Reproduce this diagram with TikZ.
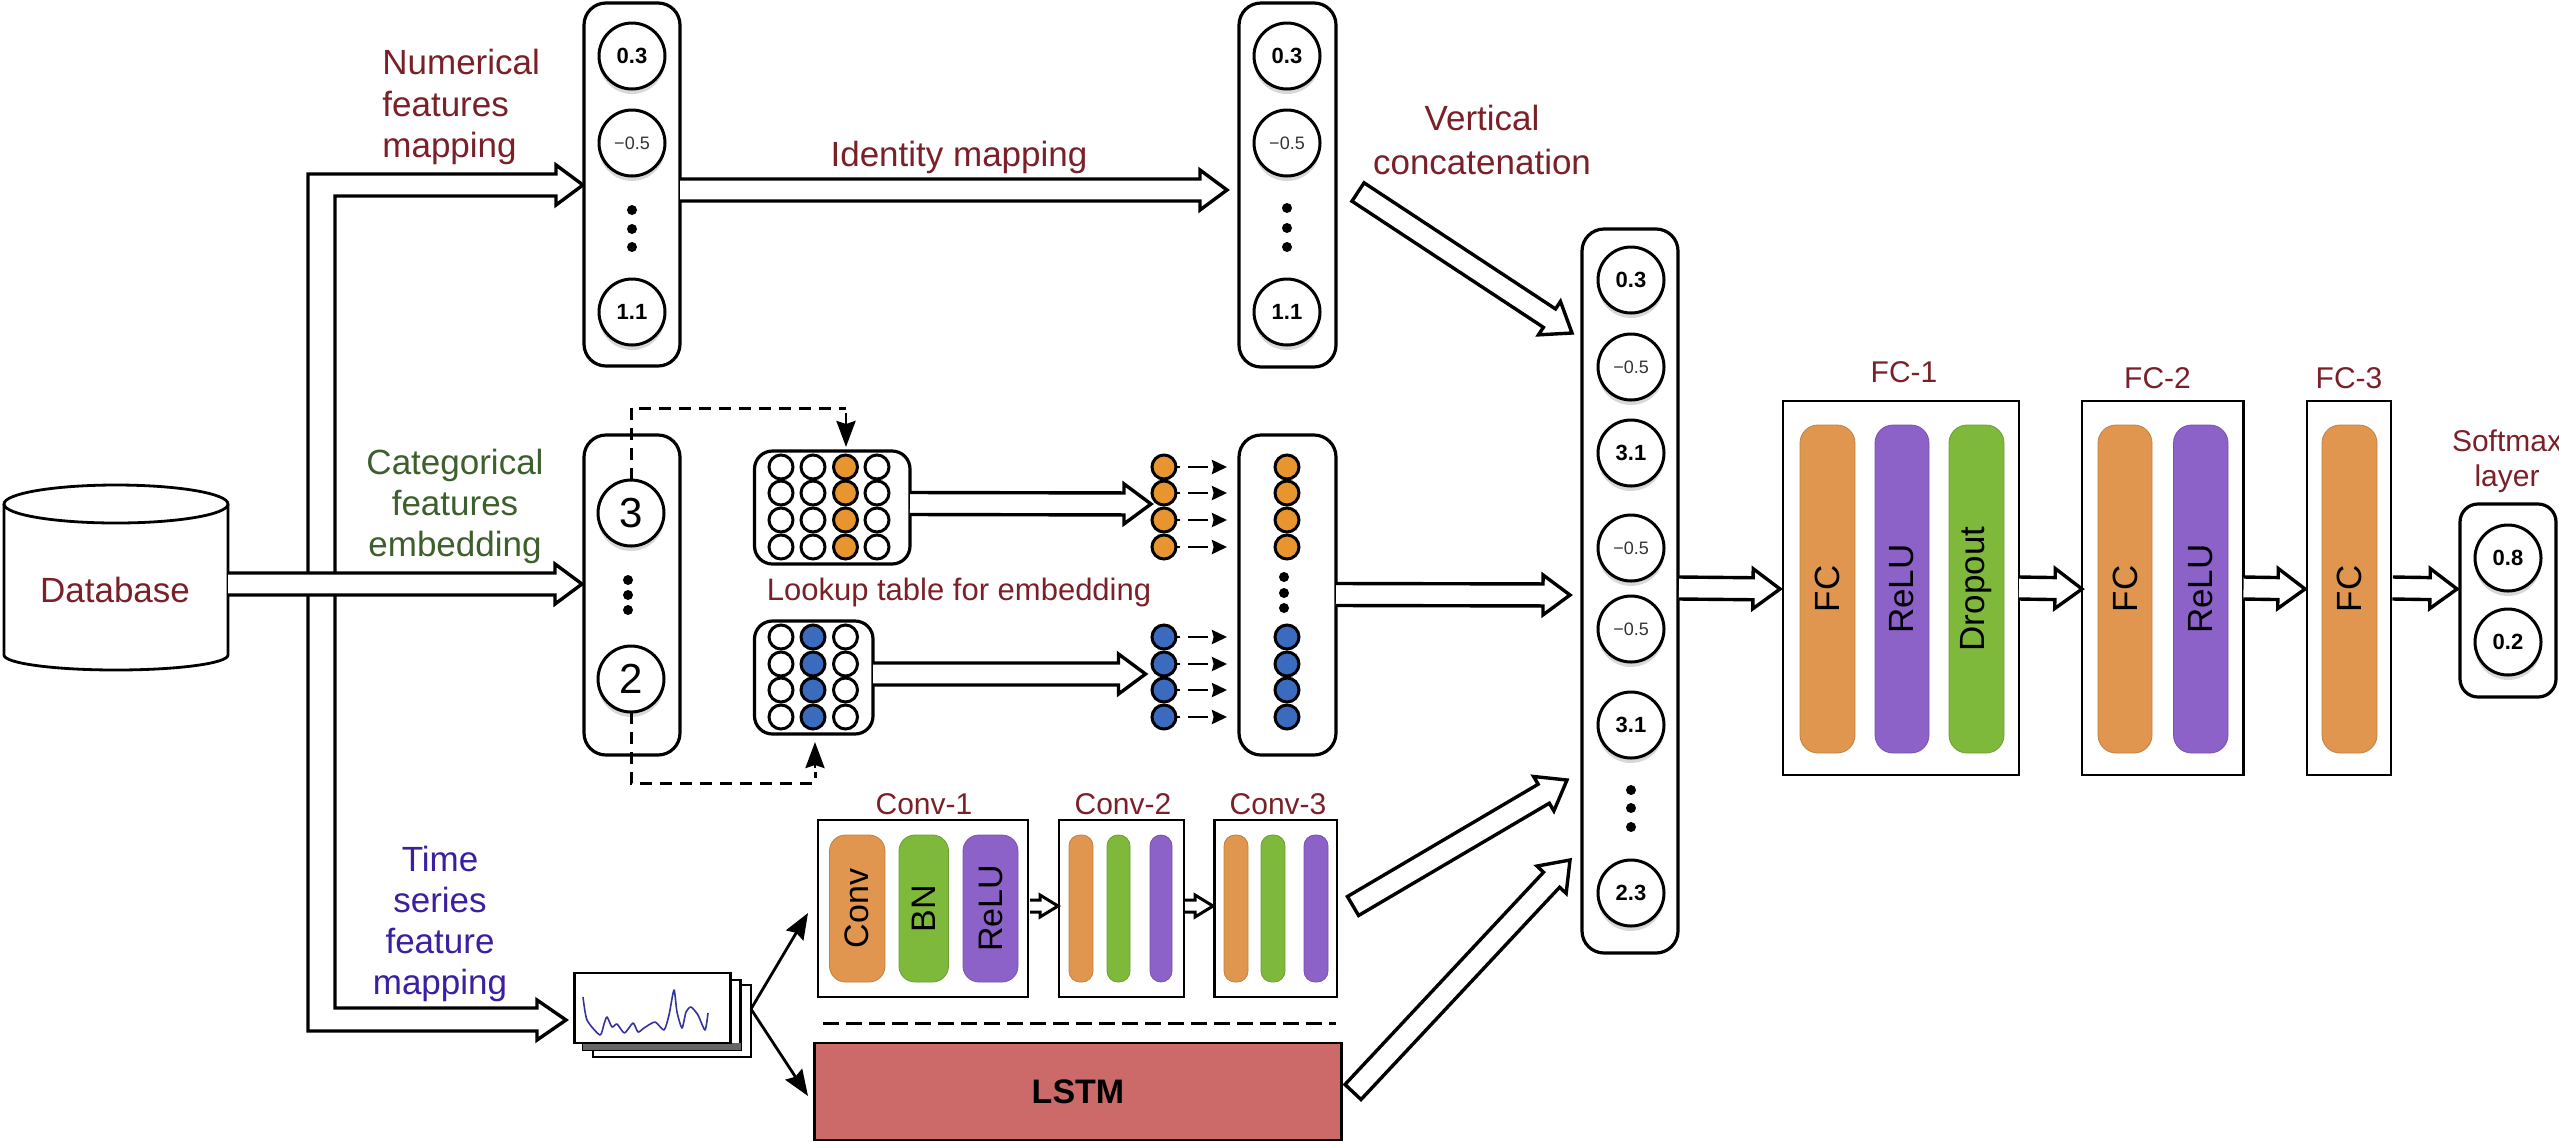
\documentclass[tikz,border=0pt]{standalone}
\usepackage{fontspec}
\setmainfont{Liberation Sans}
\usetikzlibrary{calc,arrows.meta,shadows}
\definecolor{txred}{HTML}{7B2028}
\definecolor{txgreen}{HTML}{3D5F2C}
\definecolor{txblue}{HTML}{3A1FA0}
\definecolor{porange}{HTML}{E0964F}
\definecolor{ppurple}{HTML}{8C62C8}
\definecolor{pgreen}{HTML}{7FB93C}
\definecolor{plstm}{HTML}{CC6A6A}
\definecolor{dorange}{HTML}{E8952F}
\definecolor{dblue}{HTML}{3A6BBF}
\newcommand\fs[1]{\fontsize{#1}{#1}\selectfont}
\newcommand\fl[2]{\fontsize{#1}{#2}\selectfont}
\newcommand\rot[1]{\rotatebox[origin=c]{90}{#1}}
\tikzset{
  lw/.style={line width=1.6pt},
  rbox/.style={draw=black,lw,fill=white,rounded corners=#1,inner sep=0pt,outer sep=0pt},
  rbox/.default=11pt,
  sbox/.style={draw=black,line width=1.3pt,fill=white,inner sep=0pt,outer sep=0pt},
  pill/.style={draw=#1!85!black,line width=.4pt,fill=#1,rounded corners=9pt,inner sep=0pt,outer sep=0pt},
  thinpill/.style={draw=#1!85!black,line width=.4pt,fill=#1,rounded corners=5.5pt,inner sep=0pt,outer sep=0pt},
  midpill/.style={draw=#1!85!black,line width=.4pt,fill=#1,rounded corners=8pt,inner sep=0pt,outer sep=0pt},
  circ/.style={circle,draw=black,line width=1.5pt,fill=white,minimum size=33pt,inner sep=0pt,outer sep=0pt,
     drop shadow={shadow xshift=0pt,shadow yshift=-2.5pt,opacity=.3,fill=gray}},
  posnum/.style={circ,font=\bfseries\fs{11}},
  negnum/.style={circ,font=\fs{9},text=black!80},
  catnum/.style={circ,font=\fs{21}},
  cell/.style={circle,draw=black,line width=1.5pt,fill=#1,minimum size=12pt,inner sep=0pt,outer sep=0pt},
  cell/.default=white,
  pdot/.style={circle,fill=black,minimum size=5pt,inner sep=0pt,outer sep=0pt},
  lab/.style={text=txred,font=\fs{17.5},inner sep=0pt,anchor=base},
  hollow/.style={draw=black,line width=1.7pt,fill=white,line join=miter},
  dash1/.style={line width=1.5pt,dash pattern=on 6pt off 4pt},
  tipline/.style={line width=1.4pt,-{Stealth[length=13pt,width=9.5pt,inset=1.5pt]}},
  smalldash/.style={line width=1.4pt,dash pattern=on 2pt off 4pt on 8pt off 0pt,-{Stealth[length=7.5pt,width=7pt,inset=.8pt]}},
}
% pill/box: style,name,x1,y1,x2,y2,text
\newcommand\bx[7]{%
  \pgfmathsetmacro\cxx{(#3+#5)/2}\pgfmathsetmacro\cyy{(#4+#6)/2}%
  \pgfmathsetmacro\ww{(#5-#3)*0.5}\pgfmathsetmacro\hh{(#6-#4)*0.5}%
  \node[#1,minimum width=\ww pt,minimum height=\hh pt] (#2) at (\cxx,\cyy) {#7};}
% hollow arrow, open tail
\newcommand\harrow[2]{%
  \coordinate (H) at ($(#2)!13.5pt!(#1)$);
  \draw[hollow] ($(#1)!5.5pt!90:(#2)$) -- ($(H)!5.5pt!-90:(#1)$) -- ($(H)!10pt!-90:(#1)$) -- (#2)
     -- ($(H)!10pt!90:(#1)$) -- ($(H)!5.5pt!90:(#1)$) -- ($(#1)!5.5pt!-90:(#2)$);}
\newcommand\harrowc[2]{%
  \coordinate (H) at ($(#2)!13.5pt!(#1)$);
  \draw[hollow] ($(#1)!5.5pt!90:(#2)$) -- ($(H)!5.5pt!-90:(#1)$) -- ($(H)!10pt!-90:(#1)$) -- (#2)
     -- ($(H)!10pt!90:(#1)$) -- ($(H)!5.5pt!90:(#1)$) -- ($(#1)!5.5pt!-90:(#2)$) -- cycle;}
\begin{document}
\begin{tikzpicture}[x=.5pt,y=-.5pt]
\useasboundingbox (0,0) rectangle (2559,1142);
% ---- bus
\coordinate (busA) at (583,185);
\coordinate (busB) at (566,1020);
\draw[hollow] (556,165) -- (busA) -- (556,205) -- (556,196) -- (335,196) -- (335,1008) -- (537,1008)
  -- (537,1000) -- (busB) -- (537,1040) -- (537,1031) -- (308,1031) -- (308,174) -- (556,174) -- cycle;
% ---- database
\draw[line width=1.4pt,fill=white] (4,504) -- (4,655) arc[start angle=180,end angle=360,x radius=56pt,y radius=7.5pt] -- (228,504);
\draw[line width=1.4pt,fill=white] (116,504) ellipse[x radius=56pt,y radius=9.5pt];
\node[lab,anchor=center] (db) at (115,590) {Database};
\coordinate (dbE) at (228,584);
\coordinate (c2tip) at (582,584);
\harrow{dbE}{c2tip}
% ---- column 1
\bx{rbox}{b1}{584}{3}{680}{366}{}
\node[posnum] (n1) at (632,56) {0.3};
\node[negnum] (n2) at (632,143) {−0.5};
\node[pdot] (n3) at (632,210) {};
\node[pdot] (n4) at (632,229) {};
\node[pdot] (n5) at (632,247) {};
\node[posnum] (n6) at (632,312) {1.1};
\bx{rbox}{b2}{1239}{3}{1336}{367}{}
\node[posnum] (m1) at (1287,56) {0.3};
\node[negnum] (m2) at (1287,143) {−0.5};
\node[pdot] (m3) at (1287,208) {};
\node[pdot] (m4) at (1287,228) {};
\node[pdot] (m5) at (1287,247) {};
\node[posnum] (m6) at (1287,312) {1.1};
\coordinate (idS) at (680,190);
\coordinate (idT) at (1227,190);
\harrow{idS}{idT}
\node[lab] (idl) at (959,166) {Identity mapping};
\node[text=txred,font=\fl{17.5}{20.8},align=left,anchor=west,inner sep=0pt] (numl) at (382,107) {Numerical\\features\\mapping};
\node[text=txred,font=\fl{17.5}{22},align=center,inner sep=0pt] (vcl) at (1482,140) {Vertical\\concatenation};
% ---- column 2
\bx{rbox}{b3}{584}{435}{680}{755}{}
\node[catnum] (c3) at (631,513) {3};
\node[pdot] (c4) at (628,580) {};
\node[pdot] (c5) at (628,595) {};
\node[pdot] (c6) at (628,610) {};
\node[catnum] (c7) at (631,679) {2};
\node[text=txgreen,font=\fl{17.5}{20.5},align=center,inner sep=0pt] (catl) at (455,506) {Categorical\\features\\embedding};
% lookup tables
\bx{rbox=9pt}{t1}{754.5}{451}{910}{564}{}
\foreach \y/\yy in {467/a,493/b,520/c,547/d}{
  \node[cell] (t1a\yy) at (781,\y) {};
  \node[cell] (t1b\yy) at (813,\y) {};
  \node[cell=dorange] (t1c\yy) at (845.5,\y) {};
  \node[cell] (t1d\yy) at (877,\y) {};
  \node[cell=dorange] (ea\yy) at (1164,\y) {};
}
\bx{rbox=9pt}{t2}{754.5}{621}{873}{734}{}
\foreach \y/\yy in {637/a,664/b,690/c,717/d}{
  \node[cell] (t2a\yy) at (781,\y) {};
  \node[cell=dblue] (t2b\yy) at (813,\y) {};
  \node[cell] (t2c\yy) at (845.5,\y) {};
  \node[cell=dblue] (eb\yy) at (1164,\y) {};
}
\node[lab,font=\fs{15.5}] (lkl) at (959,600) {Lookup table for embedding};
\coordinate (a1s) at (910,503.5); \coordinate (a1t) at (1151,504);
\harrow{a1s}{a1t}
\coordinate (a2s) at (873,674); \coordinate (a2t) at (1145.5,674);
\harrow{a2s}{a2t}
% embedding column
\bx{rbox}{b4}{1239}{435}{1336}{755}{}
\foreach \y/\yy in {467/a,493/b,520/c,547/d}{
  \node[cell=dorange] (fa\yy) at (1287,\y) {};
  \coordinate (ga\yy) at (1227,\y);
  \draw[smalldash] (ea\yy.east) -- (ga\yy);
}
\foreach \y/\yy in {637/a,664/b,690/c,717/d}{
  \node[cell=dblue] (fb\yy) at (1287,\y) {};
  \coordinate (gb\yy) at (1227,\y);
  \draw[smalldash] (eb\yy.east) -- (gb\yy);
}
\node[pdot] (f1) at (1284,577) {};
\node[pdot] (f2) at (1284,593) {};
\node[pdot] (f3) at (1284,608) {};
% dashed connectors
\coordinate (dt) at (846,408);
\coordinate (dt2) at (846,413);
\coordinate (dt3) at (846,447);
\draw[dash1] (c3.north) |- (dt);
\draw[tipline] (dt2) -- (dt3);
\coordinate (dd) at (815,783);
\coordinate (dd2) at (815,768);
\coordinate (dd3) at (815,742);
\draw[dash1] (c7.south) |- (dd) -- (815,772);
\draw[tipline] (dd2) -- (dd3);
% ---- concat column
\bx{rbox}{b5}{1582}{229}{1678}{953}{}
\node[posnum] (k1) at (1631,280) {0.3};
\node[negnum] (k2) at (1631,367) {−0.5};
\node[posnum] (k3) at (1631,453) {3.1};
\node[negnum] (k4) at (1631,548) {−0.5};
\node[negnum] (k5) at (1631,629) {−0.5};
\node[posnum] (k6) at (1631,725) {3.1};
\node[pdot] (k7) at (1631,790) {};
\node[pdot] (k8) at (1631,808) {};
\node[pdot] (k9) at (1631,827) {};
\node[posnum] (k10) at (1631,893) {2.3};
\coordinate (dg1s) at (1358,192); \coordinate (dg1t) at (1572,333);
\harrowc{dg1s}{dg1t}
\coordinate (cat1) at (1336,594.5); \coordinate (cat2) at (1570,595);
\harrow{cat1}{cat2}
\coordinate (dg2s) at (1353,906); \coordinate (dg2t) at (1567,780);
\harrowc{dg2s}{dg2t}
\coordinate (dg3s) at (1353,1092); \coordinate (dg3t) at (1570,860);
\harrowc{dg3s}{dg3t}
% ---- time series
\node[text=txblue,font=\fl{17.5}{20.5},align=center,inner sep=0pt] (tsl) at (440,924) {Time\\series\\feature\\mapping};
\draw[line width=1.2pt,fill=white] (593,985) rectangle (751,1057);
\draw[line width=1.2pt,fill=white] (583,980) rectangle (740.5,1050);
\fill[black!60] (583,1043) rectangle (740.5,1050);
\bx{sbox}{st}{574.5}{973}{730.5}{1043}{}
\draw[line width=.8pt,draw=black!30!blue!60!gray,line join=round]
 plot[smooth,tension=.4] coordinates {(583,997) (587,1020) (600,1035) (604,1024) (607,1017) (612,1027) (617,1024) (624.5,1033) (633,1023) (638,1032) (644,1028) (655,1022) (664,1030) (669,1015) (674,990) (677,1012) (682,1028) (686,1012) (691,1007) (698,1015) (705,1030) (708,1013)};
\coordinate (stO) at (751,1009);
\coordinate (up) at (808,913);
\coordinate (dn) at (808,1096);
\draw[line width=1.4pt,-{Stealth[length=13pt,width=10pt,inset=1.5pt]}] (stO) -- (up);
\draw[line width=1.4pt,-{Stealth[length=13pt,width=10pt,inset=1.5pt]}] (stO) -- (dn);
% ---- conv blocks
\bx{sbox}{cv1}{818}{820}{1028}{997}{}
\bx{midpill=porange}{p1}{829.5}{835}{885}{982}{\fs{17}\rot{Conv}}
\bx{midpill=pgreen}{p2}{899}{835}{948.5}{982}{\fs{17}\rot{BN}}
\bx{midpill=ppurple}{p3}{963}{835}{1018}{982}{\fs{17}\rot{ReLU}}
\bx{sbox}{cv2}{1059}{820}{1184}{997}{}
\bx{thinpill=porange}{p4}{1069}{835}{1093}{982}{}
\bx{thinpill=pgreen}{p5}{1107}{835}{1130}{982}{}
\bx{thinpill=ppurple}{p6}{1150}{835}{1172}{982}{}
\bx{sbox}{cv3}{1214.5}{820}{1337}{997}{}
\bx{thinpill=porange}{p7}{1224}{835}{1248}{982}{}
\bx{thinpill=pgreen}{p8}{1261}{835}{1285}{982}{}
\bx{thinpill=ppurple}{p9}{1304}{835}{1328}{982}{}
\node[lab,font=\fs{15}] (cl1) at (924,814) {Conv-1};
\node[lab,font=\fs{15}] (cl2) at (1123,814) {Conv-2};
\node[lab,font=\fs{15}] (cl3) at (1278,814) {Conv-3};
\draw[hollow,line width=1.5pt] (1030,900) -- (1040,900) -- (1040,895) -- (1058,906) -- (1040,917) -- (1040,912) -- (1030,912);
\draw[hollow,line width=1.5pt] (1185,900) -- (1195,900) -- (1195,895) -- (1213,906) -- (1195,917) -- (1195,912) -- (1185,912);
\coordinate (sep1) at (823,1023); \coordinate (sep2) at (1336,1023);
\draw[line width=1.5pt,dash pattern=on 8pt off 3.5pt] (sep1) -- (sep2);
\bx{draw=black,line width=1.4pt,fill=plstm,inner sep=0pt,outer sep=0pt,font=\bfseries\fs{17}}{ls}{814.5}{1043}{1341.5}{1140}{LSTM}
% ---- FC
\bx{sbox}{f1b}{1783}{401}{2019}{775}{}
\bx{pill=porange}{q1}{1800}{425}{1855}{753}{\fs{17.5}\rot{FC}}
\bx{pill=ppurple}{q2}{1875}{425}{1929}{753}{\fs{17.5}\rot{ReLU}}
\bx{pill=pgreen}{q3}{1949}{425}{2004}{753}{\fs{17.5}\rot{Dropout}}
\bx{sbox}{f2b}{2082}{401}{2243.5}{775}{}
\bx{pill=porange}{q4}{2098}{425}{2152}{753}{\fs{17.5}\rot{FC}}
\bx{pill=ppurple}{q5}{2173.5}{425}{2228}{753}{\fs{17.5}\rot{ReLU}}
\bx{sbox}{f3b}{2307}{401}{2391}{775}{}
\bx{pill=porange}{q6}{2322}{425}{2377}{753}{\fs{17.5}\rot{FC}}
\node[lab,font=\fs{15}] (fl1) at (1904,382) {FC-1};
\node[lab,font=\fs{15}] (fl2) at (2157.5,388) {FC-2};
\node[lab,font=\fs{15}] (fl3) at (2349,388) {FC-3};
\coordinate (z0) at (1679,588); \coordinate (z1) at (1780,589);
\harrow{z0}{z1}
\coordinate (z2) at (2019,588); \coordinate (z3) at (2082,589);
\harrow{z2}{z3}
\coordinate (z4) at (2243.5,588); \coordinate (z5) at (2305,589);
\harrow{z4}{z5}
\coordinate (z6) at (2392.6,588); \coordinate (z7) at (2457,589);
\harrow{z6}{z7}
% softmax
\bx{rbox=9pt}{sm}{2460}{504}{2556}{697}{}
\node[posnum] (s1) at (2508,558) {0.8};
\node[posnum] (s2) at (2508,642) {0.2};
\node[text=txred,font=\fl{15}{17.5},align=center,inner sep=0pt] (sml) at (2507,461) {Softmax\\layer};
\end{tikzpicture}
\end{document}
